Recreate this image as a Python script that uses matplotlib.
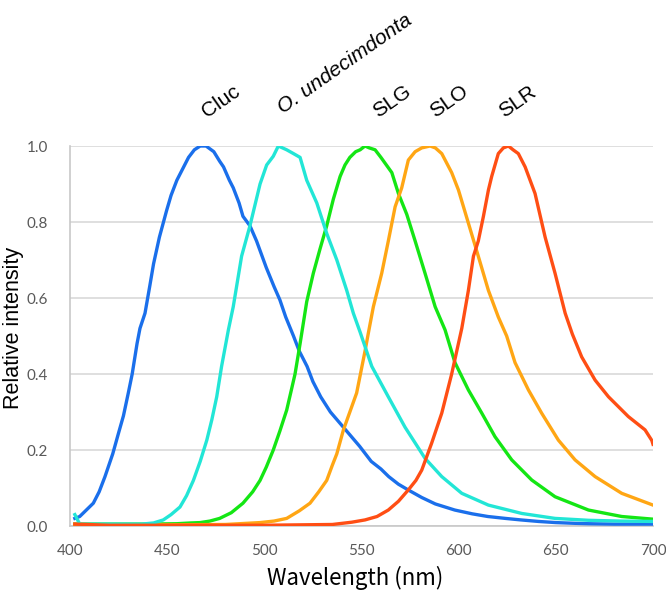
import matplotlib
matplotlib.use("Agg")
import matplotlib.pyplot as plt

# ---- data ----
cluc_wl = [402.5, 405, 408, 412, 415, 418, 422, 425, 427.5, 430, 432, 434.5, 436, 438.6, 441, 443, 446,
           449.7, 452, 455, 458, 461, 464, 467, 470, 474, 477, 479, 482, 484, 487, 489, 492.6, 496, 501,
           505, 508, 511, 515, 518, 522, 525, 529, 534, 539, 544, 549, 555, 560, 564, 569, 574, 581, 588,
           598, 607, 615, 624, 632, 641, 650, 660, 667, 680, 690, 700]
cluc_y = [0.02, 0.025, 0.04, 0.06, 0.09, 0.13, 0.19, 0.245, 0.29, 0.35, 0.40, 0.48, 0.52, 0.56, 0.63, 0.69,
          0.76, 0.83, 0.87, 0.91, 0.94, 0.97, 0.99, 1.0, 1.0, 0.985, 0.96, 0.945, 0.91, 0.89, 0.85, 0.815,
          0.79, 0.75, 0.68, 0.63, 0.595, 0.55, 0.50, 0.46, 0.42, 0.38, 0.34, 0.30, 0.27, 0.24, 0.21, 0.17,
          0.15, 0.13, 0.11, 0.095, 0.075, 0.058, 0.042, 0.032, 0.025, 0.02, 0.016, 0.012, 0.009, 0.007,
          0.006, 0.005, 0.005, 0.005]

ound_wl = [402.5, 405, 410, 420, 430, 437, 443, 448, 452, 456.6, 460, 463.5, 467, 470.4, 473, 475.5, 478,
           481.5, 484, 488.3, 492.6, 497.8, 501.2, 504.6, 507.2, 511.5, 515, 518.4, 521.8, 527, 532.1,
           537.3, 542.4, 545.8, 549.3, 555.3, 563.8, 572.4, 582.7, 591.3, 601.6, 615.3, 632.5, 649.6,
           666.8, 683, 700]
ound_y = [0.03, 0.005, 0.005, 0.005, 0.005, 0.005, 0.008, 0.016, 0.03, 0.05, 0.08, 0.12, 0.17, 0.226, 0.28,
          0.34, 0.42, 0.516, 0.577, 0.71, 0.79, 0.90, 0.95, 0.973, 1.0, 0.99, 0.98, 0.97, 0.91, 0.85, 0.77,
          0.70, 0.62, 0.56, 0.51, 0.42, 0.34, 0.26, 0.178, 0.13, 0.086, 0.055, 0.033, 0.02, 0.015, 0.013,
          0.012]

slg_wl = [402.5, 420, 440, 455, 462, 467, 472, 477, 483, 489, 494, 497.8, 501, 504.6, 508, 511.5, 514,
          515.8, 518.4, 521.8, 525.2, 528.7, 532.1, 535.5, 539, 541.5, 544, 547, 549.3, 551.8, 554, 557,
          560, 562.1, 565.6, 569, 573.3, 577.6, 582.7, 587.9, 593, 598.1, 605, 611.9, 618.7, 627.3, 637.6,
          649.6, 666.8, 683.9, 700]
slg_y = [0.005, 0.005, 0.005, 0.006, 0.008, 0.009, 0.013, 0.02, 0.035, 0.06, 0.09, 0.12, 0.155, 0.20, 0.25,
         0.305, 0.36, 0.40, 0.48, 0.59, 0.665, 0.73, 0.79, 0.86, 0.92, 0.95, 0.97, 0.985, 0.99, 1.0, 0.995,
         0.99, 0.97, 0.955, 0.93, 0.875, 0.82, 0.75, 0.665, 0.577, 0.516, 0.43, 0.358, 0.297, 0.235, 0.174,
         0.121, 0.077, 0.042, 0.025, 0.018]

slo_wl = [402.5, 420, 450, 480, 497.8, 505, 511.5, 518, 523.5, 528, 532.1, 535, 537.3, 540.7, 544, 547.5,
          551.8, 553.5, 556.1, 560.4, 563.8, 567.3, 570.7, 574.1, 577.6, 581, 585.3, 588, 591.3, 596.4,
          599.9, 605, 610.1, 615.3, 620.4, 624.7, 629, 635.9, 642.7, 651.3, 659.9, 670.2, 683.9, 700]
slo_y = [0.005, 0.003, 0.003, 0.004, 0.009, 0.013, 0.02, 0.04, 0.06, 0.09, 0.12, 0.16, 0.19, 0.253, 0.30,
         0.35, 0.46, 0.507, 0.577, 0.665, 0.75, 0.84, 0.89, 0.963, 0.985, 0.995, 1.0, 0.995, 0.98, 0.93,
         0.884, 0.797, 0.71, 0.62, 0.55, 0.50, 0.43, 0.358, 0.297, 0.226, 0.174, 0.13, 0.086, 0.055]

slr_wl = [402.5, 420, 500, 535, 545, 551.8, 558, 563.8, 569, 574.1, 578, 581, 586.1, 591.3, 596.4, 601.6,
          605, 607.6, 610.1, 612.7, 615.3, 617, 620.4, 623, 625.6, 628, 630.7, 634.2, 639.3, 644.5, 649.6,
          654.8, 658.5, 663.3, 670.2, 677.1, 687.3, 695.9, 699.4, 700]
slr_y = [0.005, 0.002, 0.002, 0.004, 0.01, 0.016, 0.025, 0.042, 0.065, 0.095, 0.12, 0.147, 0.218, 0.297,
         0.40, 0.52, 0.62, 0.71, 0.75, 0.814, 0.884, 0.92, 0.98, 0.995, 1.0, 0.99, 0.98, 0.945, 0.875, 0.76,
         0.665, 0.56, 0.505, 0.445, 0.384, 0.34, 0.288, 0.253, 0.225, 0.215]

series_names = ["Cluc", "O. undecimdonta", "SLG", "SLO", "SLR"]
x_ticks = [400, 450, 500, 550, 600, 650, 700]
y_ticks = [0.0, 0.2, 0.4, 0.6, 0.8, 1.0]

colors = {"Cluc": "#1A6FEB", "O. undecimdonta": "#22E6D6", "SLG": "#14E614",
          "SLO": "#FFA614", "SLR": "#FF4E14"}

fig = plt.figure(figsize=(6.66, 5.91), dpi=100)
ax = fig.add_axes([70 / 666, 1 - 526 / 591, (653 - 70) / 666, (526 - 146) / 591])

lw = 2.4
ax.plot(cluc_wl, cluc_y, color=colors["Cluc"], lw=lw, zorder=3)
ax.plot(slg_wl, slg_y, color=colors["SLG"], lw=lw, zorder=3)
ax.plot(slo_wl, slo_y, color=colors["SLO"], lw=lw, zorder=3)
ax.plot(ound_wl, ound_y, color=colors["O. undecimdonta"], lw=lw, zorder=3)
ax.plot(slr_wl, slr_y, color=colors["SLR"], lw=lw, zorder=3)

ax.set_xlim(400, 700)
ax.set_ylim(0, 1.0)
ax.set_xticks(x_ticks)
ax.set_yticks(y_ticks)
ax.set_yticklabels([f"{v:.1f}" for v in y_ticks])
ax.set_xticklabels([str(v) for v in x_ticks])
ax.yaxis.grid(True, color="#D9D9D9", lw=1.2, zorder=0)
ax.set_axisbelow(True)
for s in ["top", "right"]:
    ax.spines[s].set_visible(False)
for s in ["left", "bottom"]:
    ax.spines[s].set_color("#C8C8C8")
    ax.spines[s].set_linewidth(1.2)
ax.tick_params(length=0, labelsize=11, labelcolor="#595959")
ax.tick_params(axis="y", pad=16)
ax.tick_params(axis="x", pad=13)
for lab in ax.get_xticklabels() + ax.get_yticklabels():
    lab.set_family("Lato")

fig.text(14 / 666, 1 - 328 / 591, "Relative intensity", fontsize=15.5, family="Liberation Sans",
         rotation=90, ha="center", va="center")
fig.text(355 / 666, 1 - 578 / 591, "Wavelength (nm)", fontsize=16,
         family=["Noto Sans CJK JP", "DejaVu Sans"], ha="center", va="center")

# rotated series labels above the plot
label_pos = {"Cluc": (221, 102), "O. undecimdonta": (345, 64), "SLG": (392, 102),
             "SLO": (449, 101), "SLR": (518, 102)}
for name in series_names:
    px, py = label_pos[name]
    fig.text(px / 666, 1 - py / 591, name, fontsize=15, family="Liberation Sans",
             style="italic" if name.startswith("O.") else "normal",
             rotation=35, ha="center", va="center", rotation_mode="anchor")

fig.savefig("out.png", dpi=100)
